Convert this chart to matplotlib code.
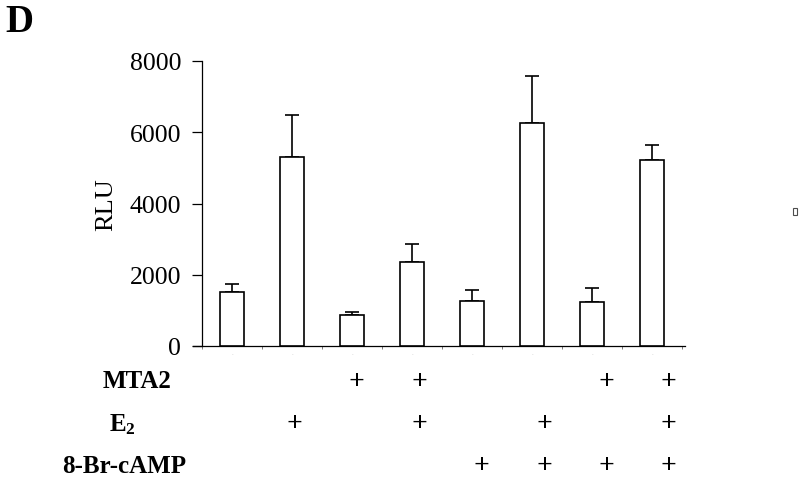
import matplotlib
matplotlib.use('Agg')
import matplotlib.pyplot as plt
from matplotlib.patches import Rectangle
from matplotlib.transforms import blended_transform_factory
import numpy as np

plt.rcParams['font.family'] = ['Liberation Serif', 'DejaVu Serif']
plt.rcParams['mathtext.fontset'] = 'custom'
plt.rcParams['mathtext.bf'] = 'Liberation Serif:bold'
plt.rcParams['mathtext.rm'] = 'Liberation Serif'

# data
rlu_mean = [1520, 5310, 870, 2370, 1270, 6260, 1240, 5230]
rlu_err = [230, 1170, 90, 490, 300, 1330, 400, 420]

row_labels = ['MTA2', r'$\mathbf{E_2}$', '8-Br-cAMP']
# which treatments each lane got (1 = "+")
mta2 = [0, 0, 1, 1, 0, 0, 1, 1]
e2 = [0, 1, 0, 1, 0, 1, 0, 1]
camp = [0, 0, 0, 0, 1, 1, 1, 1]

yticks = [0, 2000, 4000, 6000, 8000]

fig = plt.figure(figsize=(8, 4.81), dpi=100)
ax = fig.add_axes([193/800, 1-347/481, 492/800, 285/481])

x = np.arange(len(rlu_mean)) + 0.5
ax.bar(x, rlu_mean, width=0.4, color='white', edgecolor='black', linewidth=1.2, zorder=3)
ax.errorbar(x, rlu_mean, yerr=[np.zeros(len(rlu_err)), rlu_err], fmt='none',
            ecolor='black', elinewidth=1.2, capsize=5, capthick=1.2, zorder=2)

ax.set_xlim(-0.15, 8.05)
ax.set_ylim(0, 8000)
ax.spines['left'].set_position(('data', 0))
ax.spines['top'].set_visible(False)
ax.spines['right'].set_visible(False)
for s in ['left', 'bottom']:
    ax.spines[s].set_linewidth(0.9)

ax.set_yticks(yticks)
ax.set_yticklabels([str(v) for v in yticks], fontsize=18.5)
ax.tick_params(axis='y', length=7, width=0.9, pad=8)
ax.set_xticks(np.arange(0, 9))
ax.set_xticklabels([])
ax.tick_params(axis='x', length=2.5, width=0.6, color='0.4')
# faint little marks under each lane
ax.set_xticks(x, minor=True)
ax.set_xticklabels(['.'] * len(x), minor=True, fontsize=5, color='0.75')
ax.tick_params(axis='x', which='minor', length=0, pad=3)

fig.text(106/800, 1-205/481, 'RLU', rotation=90, fontsize=19, ha='center', va='center')
fig.text(5/800, 1-22/481, 'D', fontsize=28, fontweight='bold', ha='left', va='center')

# treatment table under the bars
rows = [mta2, e2, camp]
row_y = [382, 425, 467]
label_x = [137, 122, 124]
trans = blended_transform_factory(ax.transData, fig.transFigure)
for lab, flags, py, lx in zip(row_labels, rows, row_y, label_x):
    fig.text(lx/800, 1-py/481, lab, fontsize=18, fontweight='bold', ha='center', va='center')
    for k, f in enumerate(flags):
        if f:
            ax.text(0.5 + k*1.04, 1-py/481, '+', transform=trans, fontsize=20,
                    fontweight='bold', ha='center', va='center')

# stray little box at the right edge
fig.add_artist(Rectangle((793/800, 1-216/481), 4/800, 7/481, transform=fig.transFigure,
                         fill=False, edgecolor='0.3', linewidth=0.8))

fig.savefig('out.png', dpi=100)
